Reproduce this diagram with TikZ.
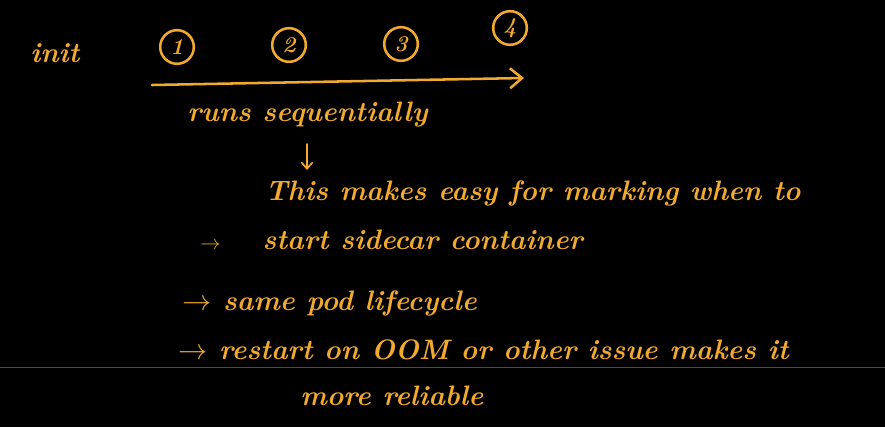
\documentclass[tikz,border=0pt]{standalone}
\usepackage{amsmath,amssymb}
\usepackage{xcolor}
\usepackage{tikz}
\usetikzlibrary{arrows.meta,positioning}
\definecolor{inkyellow}{HTML}{F2AA2E}
\definecolor{boardbg}{HTML}{000000}
\tikzset{
  notetxt/.style={text=inkyellow,font=\fontsize{20}{24}\selectfont\bfseries\itshape,inner sep=0pt,anchor=west},
  stagenode/.style={circle,draw=inkyellow,line width=1.8pt,minimum size=8.4mm,inner sep=0pt,text=inkyellow,font=\fontsize{16}{18}\selectfont\bfseries\itshape},
  flowedge/.style={-{Straight Barb[length=3mm,width=5mm]},line width=1.8pt,inkyellow,line cap=round},
  smalledge/.style={-{Straight Barb[length=1.6mm,width=2.8mm]},line width=1.2pt,inkyellow,line cap=round},
}

\begin{document}
\begin{tikzpicture}[x=0.025cm,y=-0.025cm]
  \useasboundingbox (0,0) rectangle (885,427);
  \fill[boardbg] (0,0) rectangle (885,427);
  \draw[gray!60!black,line width=0.6pt] (0,367) -- (885,367);
  \node[notetxt] (nInit) at (30,53) {init};
  \node[stagenode] (nS1) at (177,47) {1};
  \node[stagenode] (nS2) at (289,45) {2};
  \node[stagenode] (nS3) at (401,44) {3};
  \node[stagenode] (nS4) at (510,28) {4};
  \coordinate (cA0) at (152,85);
  \coordinate (cA1) at (524,78);
  \draw[flowedge] (cA0) -- (cA1);
  \node[notetxt] (nRuns) at (187,115) {runs sequentially};
  \coordinate (cD0) at (307,144);
  \coordinate (cD1) at (307,170);
  \draw[smalledge] (cD0) -- (cD1);
  \node[notetxt] (nMark) at (265,193) {This makes easy for marking when to};
  \node[notetxt] (nSide) at (200,240) {$\scriptstyle\rightarrow$\hspace{30pt}start sidecar container};
  \node[notetxt] (nPod) at (182,303) {$\rightarrow$ same pod lifecycle};
  \node[notetxt] (nRestart) at (178,350) {$\rightarrow$ restart on OOM or other issue makes it};
  \node[notetxt] (nMore) at (300,396) {more reliable};
\end{tikzpicture}
\end{document}
